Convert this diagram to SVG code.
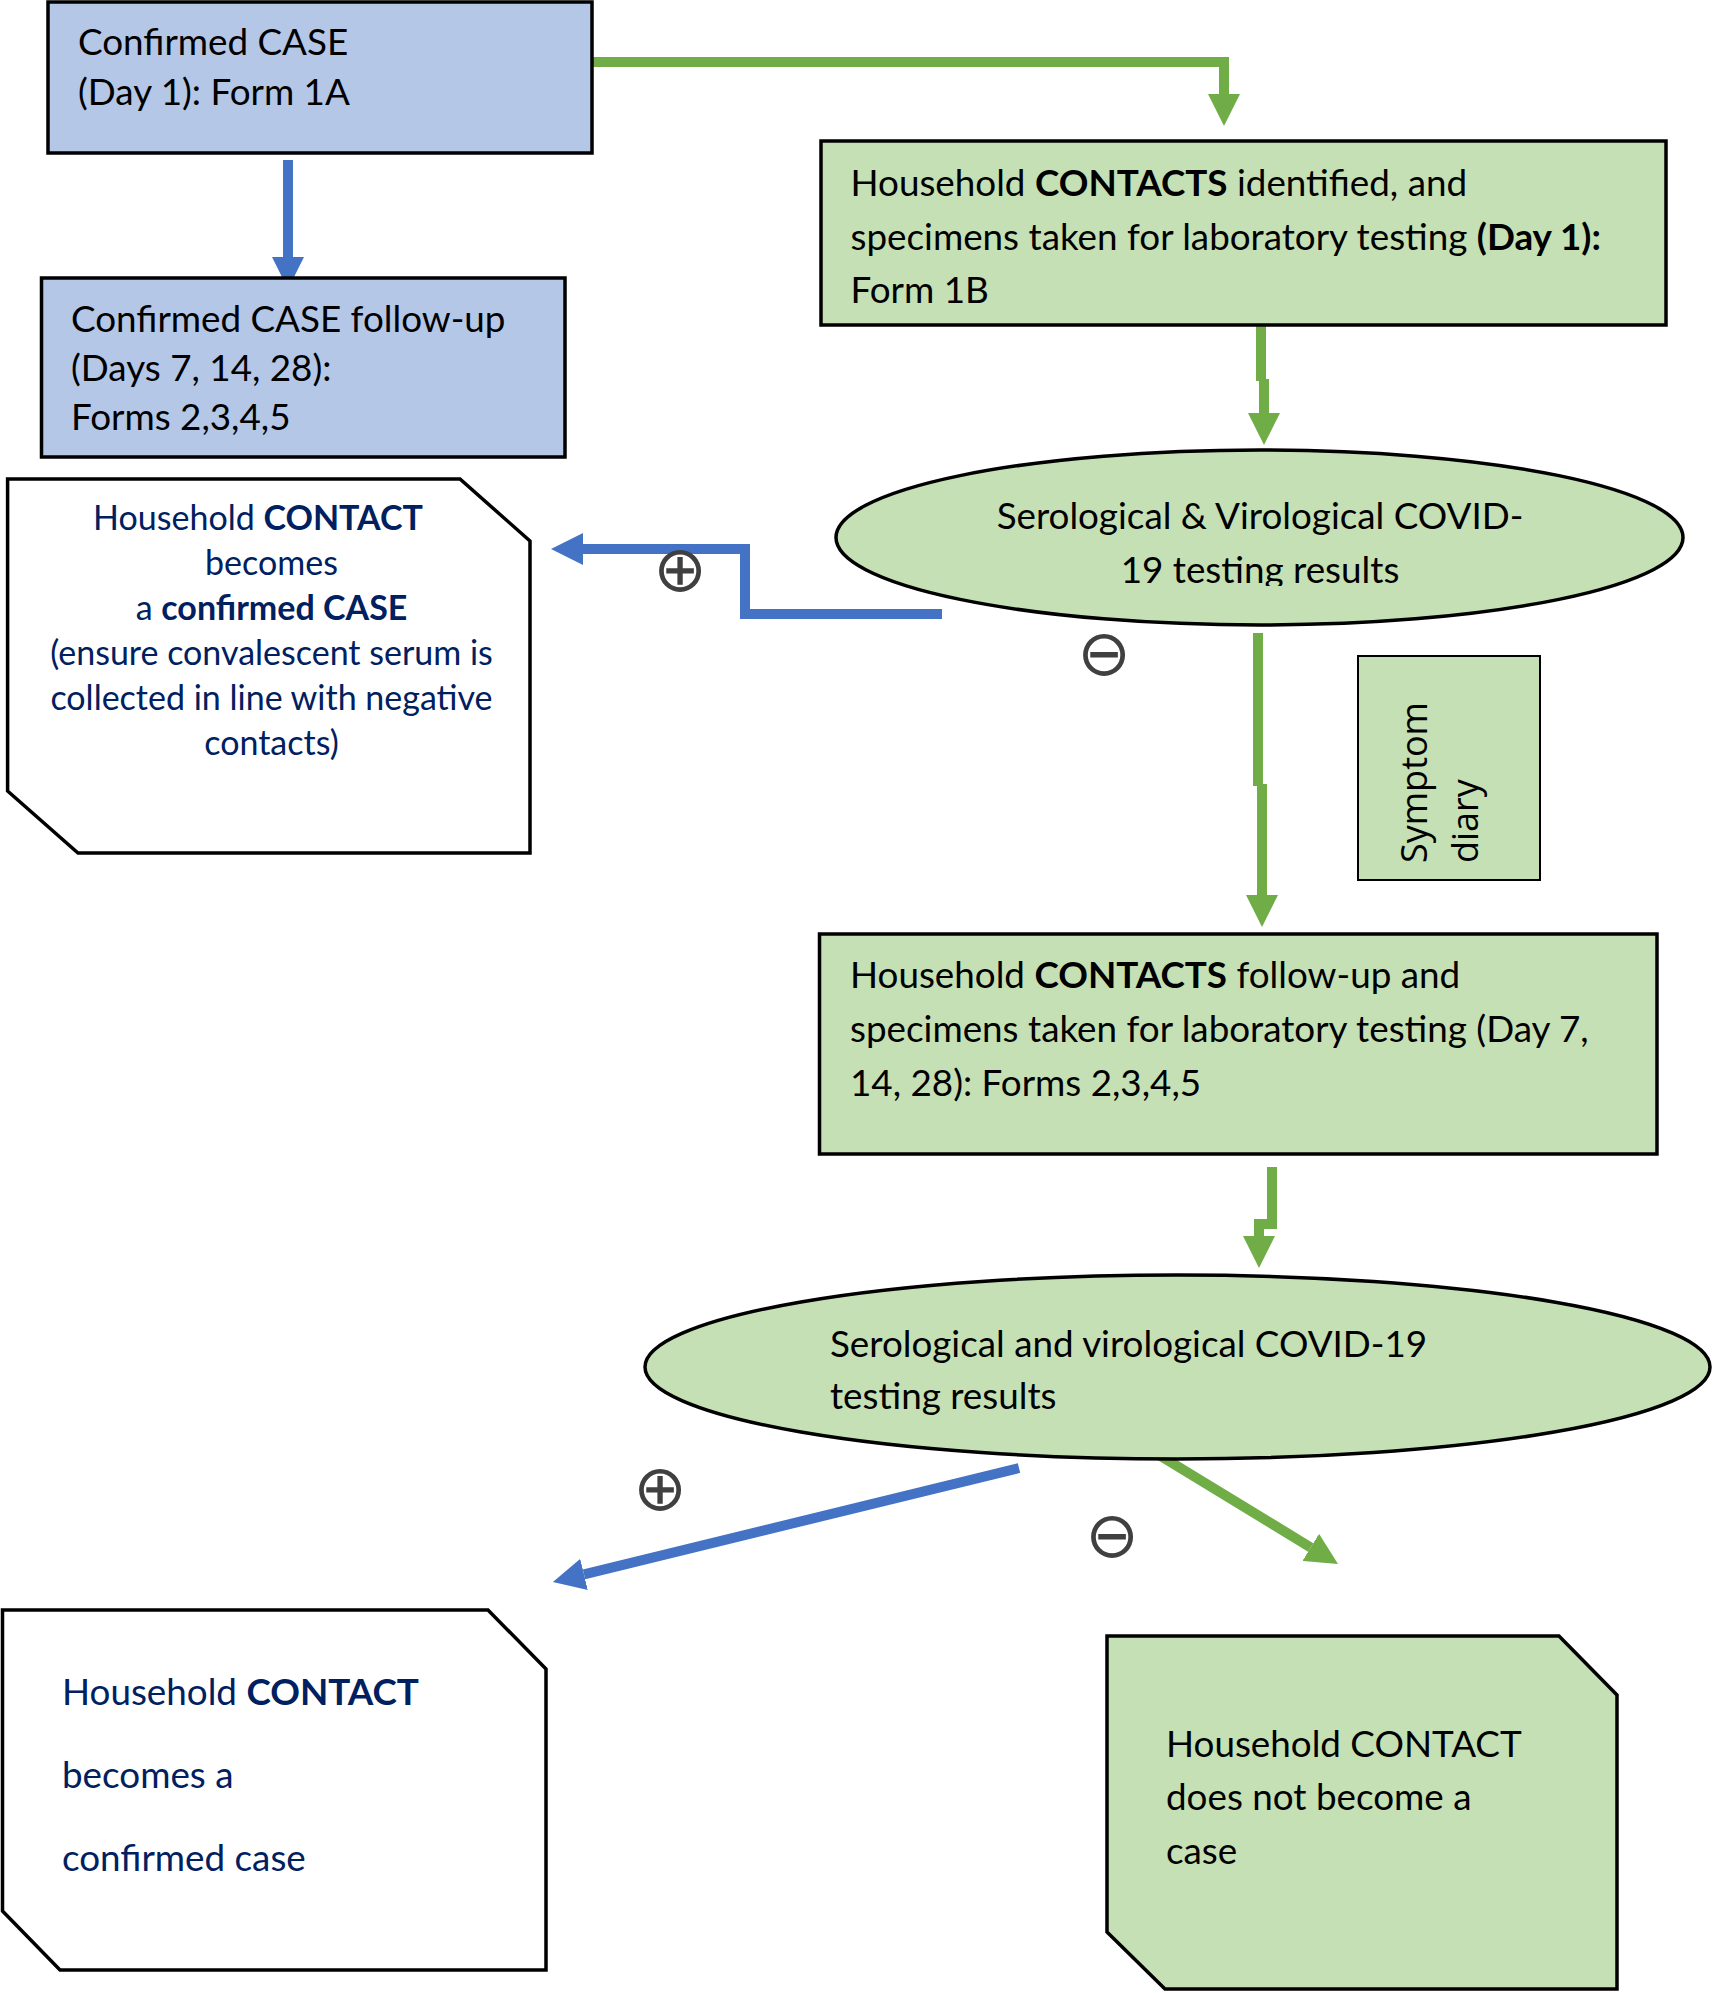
<svg xmlns="http://www.w3.org/2000/svg" width="1713" height="1993" viewBox="0 0 1713 1993">
<style>
.bg{fill:#ffffff}
.node{stroke:#000000;stroke-width:3.5;stroke-linejoin:miter}
.blue{fill:#B4C7E7}
.green{fill:#C5E0B4}
.white{fill:#ffffff}
.t{font-family:Lato,"Liberation Sans",sans-serif;font-size:36.8px;fill:#000000}
.navy{fill:#002060}
.c37{font-size:34px}
.b{font-weight:bold}
.sym{font-family:"Open Sans","DejaVu Sans",sans-serif;font-size:36px;fill:#000000}
.sign{font-family:"DejaVu Sans",sans-serif;font-size:64px;fill:#404040}
.cb{fill:none;stroke:#4472C4;stroke-width:10;stroke-linejoin:miter}
.cg{fill:none;stroke:#70AD47;stroke-width:10;stroke-linejoin:miter}
</style>
<defs>
<marker id="ahb" markerUnits="userSpaceOnUse" markerWidth="32" markerHeight="32" viewBox="0 0 32 32" refX="0" refY="16" orient="auto"><path d="M0,0 L32,16 L0,32 z" fill="#4472C4"/></marker>
<marker id="ahg" markerUnits="userSpaceOnUse" markerWidth="32" markerHeight="32" viewBox="0 0 32 32" refX="0" refY="16" orient="auto"><path d="M0,0 L32,16 L0,32 z" fill="#70AD47"/></marker>
<clipPath id="clipE1"><rect x="830" y="440" width="860" height="146"/></clipPath>
</defs>
<rect class="bg" x="0" y="0" width="1713" height="1993"/>

<g id="connectors">
<path class="cb" d="M288,160 V257" marker-end="url(#ahb)"/>
<path class="cg" d="M592,62 H1224 V94" marker-end="url(#ahg)"/>
<path class="cg" d="M1261,325 V381 M1264,379 V413" marker-end="url(#ahg)"/>
<path class="cb" d="M942,614 H745 V549 H583" marker-end="url(#ahb)"/>
<path class="cg" d="M1258,633 V786 M1262,784 V895" marker-end="url(#ahg)"/>
<path class="cg" d="M1272,1167 V1224 H1259 V1236" marker-end="url(#ahg)"/>
<path class="cb" d="M1019,1468 L584,1574.4" marker-end="url(#ahb)"/>
<path class="cg" d="M1159,1455 L1310.7,1547.4" marker-end="url(#ahg)"/>
<text class="sign" x="680" y="591" text-anchor="middle">⊕</text>
<text class="sign" x="1104" y="675" text-anchor="middle">⊖</text>
<text class="sign" x="660" y="1510" text-anchor="middle">⊕</text>
<text class="sign" x="1112" y="1557" text-anchor="middle">⊖</text>
</g>

<g id="case-day1">
<rect class="node blue" x="48" y="2" width="544" height="151"/>
<text class="t" x="78" y="55">Confirmed CASE</text>
<text class="t" x="78" y="105">(Day 1): Form 1A</text>
</g>

<g id="case-followup">
<rect class="node blue" x="41.5" y="278" width="523.5" height="179"/>
<text class="t" x="71" y="332">Confirmed CASE follow-up</text>
<text class="t" x="71" y="381">(Days 7, 14, 28):</text>
<text class="t" x="71" y="430">Forms 2,3,4,5</text>
</g>

<g id="contacts-day1">
<rect class="node green" x="821" y="141" width="845" height="184"/>
<text class="t" x="850.5" y="196">Household <tspan class="b">CONTACTS</tspan> identified, and</text>
<text class="t" x="850.5" y="250">specimens taken for laboratory testing <tspan class="b">(Day 1):</tspan></text>
<text class="t" x="850.5" y="303">Form 1B</text>
</g>

<g id="results-1">
<ellipse class="node green" cx="1259.5" cy="537.5" rx="423.5" ry="87.5"/>
<g clip-path="url(#clipE1)">
<text class="t" x="1260" y="529" text-anchor="middle">Serological &amp; Virological COVID-</text>
<text class="t" x="1260" y="583" text-anchor="middle">19 testing results</text>
</g>
</g>

<g id="contact-becomes-case-1">
<polygon class="node white" points="7.6,479 460,479 530,541 530,853 78,853 7.6,791"/>
<text class="t c37 navy" x="258" y="530" text-anchor="middle">Household <tspan class="b">CONTACT</tspan></text>
<text class="t c37 navy" x="271.5" y="575" text-anchor="middle">becomes</text>
<text class="t c37 navy" x="271.5" y="620" text-anchor="middle">a <tspan class="b">confirmed CASE</tspan></text>
<text class="t c37 navy" x="271.5" y="665" text-anchor="middle">(ensure convalescent serum is</text>
<text class="t c37 navy" x="271.5" y="710" text-anchor="middle">collected in line with negative</text>
<text class="t c37 navy" x="271.5" y="755" text-anchor="middle">contacts)</text>
</g>

<g id="symptom-diary">
<rect x="1358" y="656" width="182" height="224" fill="#C5E0B4" stroke="#000000" stroke-width="2"/>
<text class="sym" transform="translate(1427,863) rotate(-90)">Symptom</text>
<text class="sym" transform="translate(1478,863) rotate(-90)">diary</text>
</g>

<g id="contacts-followup">
<rect class="node green" x="819.5" y="934" width="837.5" height="220"/>
<text class="t" x="850" y="988">Household <tspan class="b">CONTACTS</tspan> follow-up and</text>
<text class="t" x="850" y="1042">specimens taken for laboratory testing (Day 7,</text>
<text class="t" x="850" y="1095.5">14, 28): Forms 2,3,4,5</text>
</g>

<g id="results-2">
<ellipse class="node green" cx="1177.5" cy="1367" rx="532.5" ry="92"/>
<text class="t" x="830" y="1357">Serological and virological COVID-19</text>
<text class="t" x="830" y="1409">testing results</text>
</g>

<g id="contact-becomes-case-2">
<polygon class="node white" points="2.5,1610 488,1610 546,1669 546,1970 60,1970 2.5,1911"/>
<text class="t navy" x="62" y="1705">Household <tspan class="b">CONTACT</tspan></text>
<text class="t navy" x="62" y="1788">becomes a</text>
<text class="t navy" x="62" y="1871">confirmed case</text>
</g>

<g id="contact-not-case">
<polygon class="node green" points="1107,1636 1559,1636 1617,1695 1617,1989 1165,1989 1107,1932"/>
<text class="t" x="1166" y="1757">Household CONTACT</text>
<text class="t" x="1166" y="1810">does not become a</text>
<text class="t" x="1166" y="1864">case</text>
</g>
</svg>
